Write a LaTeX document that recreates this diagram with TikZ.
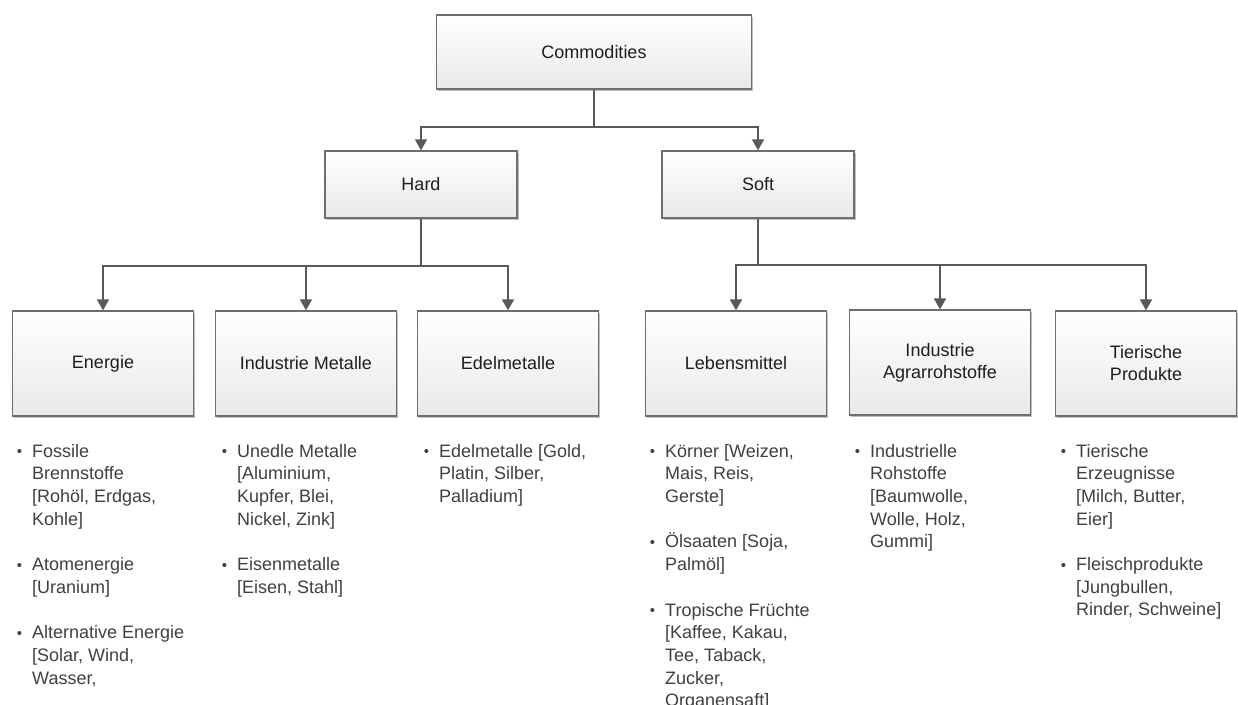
\documentclass[tikz,border=0pt]{standalone}
\usepackage{fontspec}
\setmainfont{Liberation Sans}
\usetikzlibrary{arrows.meta,shadows}
\definecolor{boxline}{HTML}{6E6E6E}
\definecolor{conn}{HTML}{595959}
\definecolor{boxbot}{HTML}{E9E9E9}
\definecolor{listtxt}{HTML}{404040}
\definecolor{boxtxt}{HTML}{1E1E1E}
\newcommand{\bul}{\makebox[0pt][r]{\raisebox{0.5pt}{\fontsize{15}{15}\selectfont\textbullet}\hspace{10pt}}}
\tikzset{
  box/.style={draw=boxline, line width=1.3pt, top color=white, bottom color=boxbot,
    minimum width=181pt, minimum height=105pt, inner sep=2pt, align=center,
    text=boxtxt, font=\fontsize{18}{22}\selectfont,
    drop shadow={shadow xshift=1.5pt, shadow yshift=-1.5pt, opacity=0.25, fill=black}},
  lst/.style={anchor=north west, align=left, inner sep=0pt, text=listtxt,
    font=\fontsize{18}{22.7}\selectfont},
  arr/.style={draw=conn, line width=1.8pt, -{Triangle[length=11pt,width=12pt]}},
  ln/.style={draw=conn, line width=1.8pt}
}
\begin{document}
\begin{tikzpicture}[x=1pt,y=-1pt]
\fill[white] (0,0) rectangle (1238,704);
\useasboundingbox (0,0) rectangle (1238,704);

\node[box, minimum width=315pt, minimum height=74pt] (com) at (594,52) {Commodities};
\node[box, minimum width=192pt, minimum height=67pt] (hard) at (421,184.5) {Hard};
\node[box, minimum width=192pt, minimum height=67pt] (soft) at (758,184.5) {Soft};

\node[box] (en) at (103,363.5) {Energie};
\node[box] (im) at (306,363.5) {Industrie Metalle};
\node[box] (ed) at (508,363.5) {Edelmetalle};
\node[box] (le) at (736,363.5) {Lebensmittel};
\node[box] (ia) at (940,362.5) {Industrie\\Agrarrohstoffe};
\node[box] (ti) at (1146,363.5) {Tierische\\Produkte};

\coordinate (b1) at (594,127);
\coordinate (b2) at (421,266);
\coordinate (b3) at (758,265);
\draw[ln] (com.south) -- (b1);
\draw[arr] (b1) -| (hard.north);
\draw[arr] (b1) -| (soft.north);
\draw[ln] (hard.south) -- (b2);
\draw[arr] (b2) -| (en.north);
\draw[arr] (b2) -| (im.north);
\draw[arr] (b2) -| (ed.north);
\draw[ln] (soft.south) -- (b3);
\draw[arr] (b3) -| (le.north);
\draw[arr] (b3) -| (ia.north);
\draw[arr] (b3) -| (ti.north);

\node[lst] (l1) at (32,441) {\strut\bul Fossile\\ Brennstoffe\\ {[}Rohöl, Erdgas,\\ Kohle]\\[22.7pt]
  \bul Atomenergie\\ {[}Uranium]\\[22.7pt]
  \bul Alternative Energie\\ {[}Solar, Wind,\\ Wasser,};
\node[lst] (l2) at (237,441) {\strut\bul Unedle Metalle\\ {[}Aluminium,\\ Kupfer, Blei,\\ Nickel, Zink]\\[22.7pt]
  \bul Eisenmetalle\\ {[}Eisen, Stahl]};
\node[lst] (l3) at (439,441) {\strut\bul Edelmetalle [Gold,\\ Platin, Silber,\\ Palladium]};
\node[lst] (l4) at (665,441) {\strut\bul Körner [Weizen,\\ Mais, Reis,\\ Gerste]\\[22.7pt]
  \bul Ölsaaten [Soja,\\ Palmöl]\\[22.7pt]
  \bul Tropische Früchte\\ {[}Kaffee, Kakau,\\ Tee, Taback,\\ Zucker,\\ Organensaft]};
\node[lst] (l5) at (870,441) {\strut\bul Industrielle\\ Rohstoffe\\ {[}Baumwolle,\\ Wolle, Holz,\\ Gummi]};
\node[lst] (l6) at (1076,441) {\strut\bul Tierische\\ Erzeugnisse\\ {[}Milch, Butter,\\ Eier]\\[22.7pt]
  \bul Fleischprodukte\\ {[}Jungbullen,\\ Rinder, Schweine]};
\end{tikzpicture}
\end{document}
